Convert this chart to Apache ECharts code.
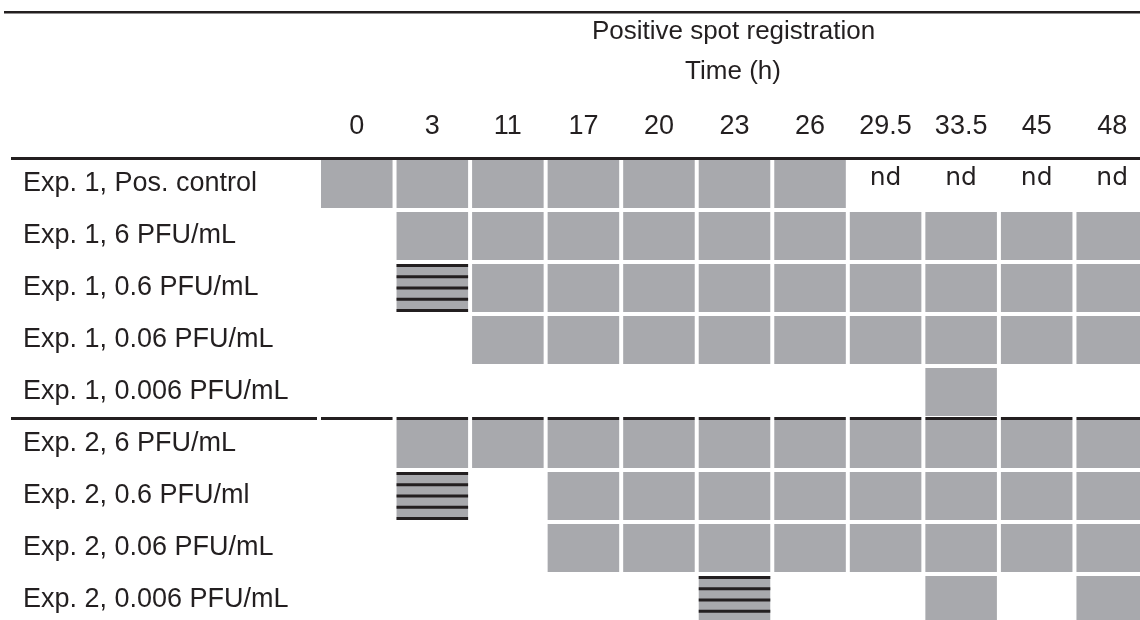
<!DOCTYPE html>
<html>
<head>
<meta charset="utf-8">
<script src="https://cdn.jsdelivr.net/npm/echarts@6/dist/echarts.min.js"></script>
<style>
html,body{margin:0;padding:0;background:#fff;overflow:hidden;width:1140px;height:620px;}
#chart{width:1150px;height:626px;}
</style>
</head>
<body>
<div id="chart"></div>
<script>
// ---- data ----
// codes: 0 = no spot, 1 = positive spot, 2 = weak / partial (hatched), 3 = nd (not determined)
const timeLabels = ['0', '3', '11', '17', '20', '23', '26', '29.5', '33.5', '45', '48'];
const rowLabels = [
  'Exp. 1, Pos. control',
  'Exp. 1, 6 PFU/mL',
  'Exp. 1, 0.6 PFU/mL',
  'Exp. 1, 0.06 PFU/mL',
  'Exp. 1, 0.006 PFU/mL',
  'Exp. 2, 6 PFU/mL',
  'Exp. 2, 0.6 PFU/ml',
  'Exp. 2, 0.06 PFU/mL',
  'Exp. 2, 0.006 PFU/mL'
];
const exp1PosControl = [1, 1, 1, 1, 1, 1, 1, 3, 3, 3, 3];
const exp1Pfu6       = [0, 1, 1, 1, 1, 1, 1, 1, 1, 1, 1];
const exp1Pfu06      = [0, 2, 1, 1, 1, 1, 1, 1, 1, 1, 1];
const exp1Pfu006     = [0, 0, 1, 1, 1, 1, 1, 1, 1, 1, 1];
const exp1Pfu0006    = [0, 0, 0, 0, 0, 0, 0, 0, 1, 0, 0];
const exp2Pfu6       = [0, 1, 1, 1, 1, 1, 1, 1, 1, 1, 1];
const exp2Pfu06      = [0, 2, 0, 1, 1, 1, 1, 1, 1, 1, 1];
const exp2Pfu006     = [0, 0, 0, 1, 1, 1, 1, 1, 1, 1, 1];
const exp2Pfu0006    = [0, 0, 0, 0, 0, 2, 0, 0, 1, 0, 1];
const rows = [exp1PosControl, exp1Pfu6, exp1Pfu06, exp1Pfu006, exp1Pfu0006,
              exp2Pfu6, exp2Pfu06, exp2Pfu006, exp2Pfu0006];
const firstExp2Row = 5;

// ---- styling ----
const GRAY = '#a8a9ad';
const INK = '#231f20';
const GAP = 4;

const cells = [];
rows.forEach((r, yi) => r.forEach((v, xi) => cells.push([xi, yi, v])));

function renderItem(params, api) {
  const xi = api.value(0), yi = api.value(1), v = api.value(2);
  const c = api.coord([xi, yi]);
  const s = api.size([1, 1]);
  const w = s[0] - GAP, h = s[1] - GAP;
  const x0 = c[0] - w / 2, y0 = c[1] - h / 2;
  const children = [];
  if (v === 1 || v === 2) {
    children.push({type: 'rect', shape: {x: x0, y: y0, width: w, height: h}, style: {fill: GRAY}});
  }
  if (v === 2) {
    const th = 3, n = 5, step = (h - th) / (n - 1);
    for (let k = 0; k < n; k++) {
      children.push({type: 'rect', shape: {x: x0, y: y0 + k * step, width: w, height: th}, style: {fill: INK}});
    }
  }
  if (v === 3) {
    children.push({type: 'text', x: c[0], y: c[1] - 6,
      style: {text: 'nd', fill: INK, font: '25px "DejaVu Sans"', align: 'center', verticalAlign: 'middle'}});
  }
  if (yi === firstExp2Row) {
    children.push({type: 'rect', shape: {x: x0, y: c[1] - s[1] / 2 - 1, width: w, height: 3}, style: {fill: INK}});
  }
  return {type: 'group', children: children};
}

const chart = echarts.init(document.getElementById('chart'), null, {renderer: 'canvas'});
chart.setOption({
  animation: false,
  backgroundColor: '#ffffff',
  grid: {left: 319, top: 158, right: 0, bottom: 0, containLabel: false},
  xAxis: {
    type: 'category', position: 'top', data: timeLabels,
    axisLine: {show: false}, axisTick: {show: false}, splitLine: {show: false},
    axisLabel: {interval: 0, margin: 31, verticalAlign: 'middle', color: INK,
      fontFamily: 'Liberation Sans', fontSize: 27}
  },
  yAxis: {
    type: 'category', inverse: true, data: rowLabels,
    axisLine: {show: false}, axisTick: {show: false}, splitLine: {show: false},
    axisLabel: {interval: 0, margin: 296, align: 'left', verticalAlign: 'middle',
      padding: [0, 0, 12, 0], color: INK, fontFamily: 'Liberation Sans', fontSize: 27}
  },
  graphic: [
    {type: 'rect', shape: {x: 4, y: 11, width: 1146, height: 2.6}, style: {fill: INK}},
    {type: 'rect', shape: {x: 11, y: 157, width: 1139, height: 3}, style: {fill: INK}},
    {type: 'rect', shape: {x: 11, y: 417, width: 306, height: 3}, style: {fill: INK}},
    {type: 'text', x: 733.5, y: 32, style: {text: 'Positive spot registration', fill: INK,
      font: '26px "Liberation Sans"', align: 'center', verticalAlign: 'middle'}},
    {type: 'text', x: 733, y: 72, style: {text: 'Time (h)', fill: INK,
      font: '26px "Liberation Sans"', align: 'center', verticalAlign: 'middle'}}
  ],
  series: [{
    type: 'custom',
    renderItem: renderItem,
    data: cells,
    encode: {x: 0, y: 1}
  }]
});
</script>
</body>
</html>
